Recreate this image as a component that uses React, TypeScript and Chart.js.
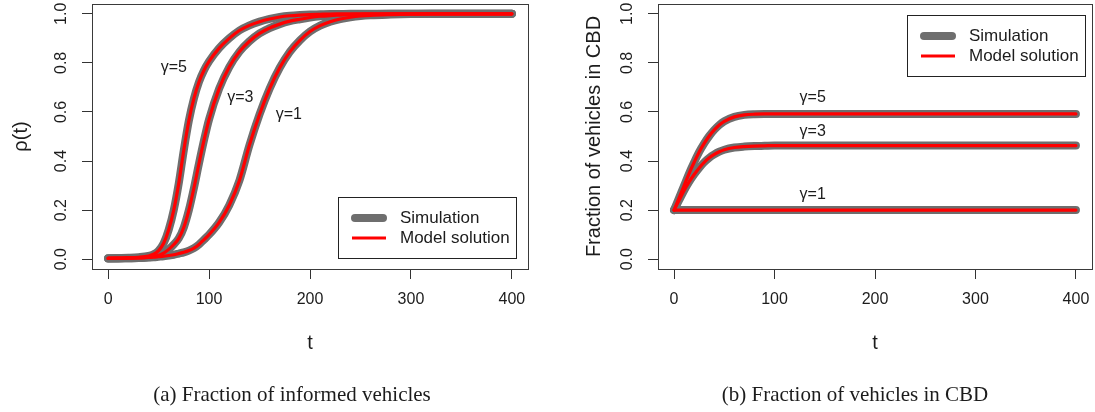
import React, { useEffect, useRef } from "react";
import { Chart, registerables } from "chart.js";

Chart.register(...registerables);

// ---------- data ----------
const T_A = [0, 10, 20, 30, 40, 45, 50, 55, 60, 65, 70, 75, 80, 85, 90, 95, 100, 110, 120, 130, 140, 150, 160, 170, 180, 190, 200, 210, 220, 230, 240, 250, 260, 280, 300, 320, 340, 360, 380, 400];
const RHO_G5 = [0.004, 0.005, 0.006, 0.008, 0.013, 0.02, 0.035, 0.065, 0.12, 0.2, 0.31, 0.445, 0.565, 0.655, 0.722, 0.77, 0.806, 0.86, 0.9, 0.932, 0.953, 0.968, 0.979, 0.987, 0.992, 0.995, 0.997, 0.998, 0.999, 0.9995, 1, 1, 1, 1, 1, 1, 1, 1, 1, 1];
const RHO_G3 = [0.003, 0.003, 0.004, 0.005, 0.008, 0.011, 0.016, 0.025, 0.04, 0.06, 0.085, 0.13, 0.2, 0.29, 0.39, 0.485, 0.57, 0.695, 0.783, 0.845, 0.888, 0.92, 0.942, 0.958, 0.97, 0.978, 0.985, 0.99, 0.993, 0.995, 0.997, 0.998, 0.999, 1, 1, 1, 1, 1, 1, 1];
const RHO_G1 = [0.003, 0.003, 0.004, 0.005, 0.007, 0.008, 0.01, 0.012, 0.015, 0.018, 0.023, 0.028, 0.035, 0.045, 0.06, 0.08, 0.1, 0.15, 0.22, 0.32, 0.465, 0.59, 0.695, 0.78, 0.845, 0.892, 0.928, 0.952, 0.968, 0.979, 0.986, 0.991, 0.994, 0.997, 0.999, 1, 1, 1, 1, 1];

const T_B = [0, 5, 10, 15, 20, 25, 30, 35, 40, 45, 50, 60, 70, 80, 90, 100, 150, 200, 250, 300, 350, 400];
const CBD_G5 = [0.2, 0.25, 0.3, 0.35, 0.395, 0.437, 0.472, 0.502, 0.527, 0.547, 0.562, 0.58, 0.588, 0.591, 0.592, 0.592, 0.592, 0.592, 0.592, 0.592, 0.592, 0.592];
const CBD_G3 = [0.2, 0.24, 0.28, 0.315, 0.345, 0.372, 0.395, 0.413, 0.427, 0.438, 0.446, 0.455, 0.459, 0.461, 0.462, 0.463, 0.463, 0.463, 0.463, 0.463, 0.463, 0.463];
const CBD_G1 = [0.2, 0.2, 0.2, 0.2, 0.2, 0.2, 0.2, 0.2, 0.2, 0.2, 0.2, 0.2, 0.2, 0.2, 0.2, 0.2, 0.2, 0.2, 0.2, 0.2, 0.2, 0.2];

const X_TICKS = [0, 100, 200, 300, 400];
const X_TICK_LABELS = ["0", "100", "200", "300", "400"];
const Y_TICKS = [0, 0.2, 0.4, 0.6, 0.8, 1.0];
const Y_TICK_LABELS = ["0.0", "0.2", "0.4", "0.6", "0.8", "1.0"];
const GAMMA_LABELS = ["γ=1", "γ=3", "γ=5"];
const LEGEND_LABELS = ["Simulation", "Model solution"];

// annotation anchors in data coordinates (t, value)
const GAMMA_AT_A: [number, number][] = [[179, 0.59], [131, 0.657], [65, 0.78]];
const GAMMA_AT_B: [number, number][] = [[138, 0.265], [138, 0.52], [138, 0.66]];

// ---------- style ----------
const GRAY = "#6e6e6e";
const RED = "#ff0000";
const INK = "#1c1c1c";
const SANS = "'Liberation Sans', Arial, sans-serif";
const SERIF = "'Liberation Serif', 'Times New Roman', serif";
const H = 412;

type PanelCfg = {
  left: number;
  width: number;
  axisW: number;
  padRight: number;
  t: number[];
  series: number[][];
  gammaAt: [number, number][];
  yTitle: string;
  yTitleOff: number;
  caption: string;
  captionX: number;
  legend: { corner: "br" | "tr"; dx: number; dy: number };
};

function drawText(
  ctx: CanvasRenderingContext2D,
  s: string,
  x: number,
  y: number,
  font: string,
  rot = 0,
  align: CanvasTextAlign = "center"
) {
  ctx.save();
  ctx.translate(x, y);
  if (rot) ctx.rotate(rot);
  ctx.font = font;
  ctx.textAlign = align;
  ctx.textBaseline = "middle";
  ctx.fillStyle = INK;
  ctx.fillText(s, 0, 0);
  ctx.restore();
}

function makePlugin(cfg: PanelCfg) {
  return {
    id: "rstyle",
    afterDraw(chart: any) {
      const { ctx, chartArea: ca } = chart;
      const xs = chart.scales.x;
      const ys = chart.scales.y;
      ctx.save();
      // box
      ctx.strokeStyle = "#3a3a3a";
      ctx.lineWidth = 1;
      ctx.strokeRect(Math.round(ca.left) + 0.5, Math.round(ca.top) + 0.5, Math.round(ca.right - ca.left), Math.round(ca.bottom - ca.top));
      // tick labels
      X_TICKS.forEach((v, i) => {
        drawText(ctx, X_TICK_LABELS[i], xs.getPixelForValue(v), ca.bottom + 31, `16px ${SANS}`);
      });
      Y_TICKS.forEach((v, i) => {
        drawText(ctx, Y_TICK_LABELS[i], ca.left - 30, ys.getPixelForValue(v), `16px ${SANS}`, -Math.PI / 2);
      });
      // axis titles
      drawText(ctx, "t", (ca.left + ca.right) / 2, ca.bottom + 74, `20px ${SANS}`);
      drawText(ctx, cfg.yTitle, ca.left - cfg.yTitleOff, (ca.top + ca.bottom) / 2, `20px ${SANS}`, -Math.PI / 2);
      // gamma labels
      cfg.gammaAt.forEach(([tx, ty], i) => {
        drawText(ctx, GAMMA_LABELS[i], xs.getPixelForValue(tx), ys.getPixelForValue(ty), `16px ${SANS}`);
      });
      // legend
      const lw = 178;
      const lh = 61;
      const bx = ca.right - cfg.legend.dx - lw;
      const by = cfg.legend.corner === "br" ? ca.bottom - cfg.legend.dy - lh : ca.top + cfg.legend.dy;
      ctx.fillStyle = "#fff";
      ctx.fillRect(bx, by, lw, lh);
      ctx.strokeStyle = "#222";
      ctx.lineWidth = 1;
      ctx.strokeRect(Math.round(bx) + 0.5, Math.round(by) + 0.5, lw, lh);
      ctx.lineCap = "round";
      ctx.strokeStyle = GRAY;
      ctx.lineWidth = 8;
      ctx.beginPath();
      ctx.moveTo(bx + 17, by + 21);
      ctx.lineTo(bx + 45, by + 21);
      ctx.stroke();
      ctx.strokeStyle = RED;
      ctx.lineWidth = 3;
      ctx.lineCap = "butt";
      ctx.beginPath();
      ctx.moveTo(bx + 14, by + 41);
      ctx.lineTo(bx + 48, by + 41);
      ctx.stroke();
      drawText(ctx, LEGEND_LABELS[0], bx + 62, by + 21, `17px ${SANS}`, 0, "left");
      drawText(ctx, LEGEND_LABELS[1], bx + 62, by + 41, `17px ${SANS}`, 0, "left");
      // caption
      drawText(ctx, cfg.caption, cfg.captionX, 395, `21px ${SERIF}`);
      ctx.restore();
    },
  };
}

function buildChart(canvas: HTMLCanvasElement, cfg: PanelCfg) {
  const datasets: any[] = [];
  cfg.series.forEach((vals, i) => {
    const pts = cfg.t.map((t, j) => ({ x: t, y: vals[j] }));
    datasets.push({
      label: "Simulation " + GAMMA_LABELS[i],
      data: pts,
      borderColor: GRAY,
      borderWidth: 8,
      borderCapStyle: "round",
      borderJoinStyle: "round",
      pointRadius: 0,
      cubicInterpolationMode: "monotone",
      order: 2,
    });
  });
  cfg.series.forEach((vals, i) => {
    const pts = cfg.t.map((t, j) => ({ x: t, y: vals[j] }));
    datasets.push({
      label: "Model solution " + GAMMA_LABELS[i],
      data: pts,
      borderColor: RED,
      borderWidth: 3.2,
      borderCapStyle: "round",
      borderJoinStyle: "round",
      pointRadius: 0,
      cubicInterpolationMode: "monotone",
      order: 1,
    });
  });
  return new Chart(canvas, {
    type: "line",
    data: { datasets },
    options: {
      animation: false,
      responsive: false,
      maintainAspectRatio: false,
      layout: { padding: { top: 4, right: cfg.padRight, bottom: 0, left: 0 } },
      plugins: { legend: { display: false }, tooltip: { enabled: false }, title: { display: false } },
      scales: {
        x: {
          type: "linear",
          min: -16,
          max: 416,
          afterBuildTicks: (s: any) => {
            s.ticks = X_TICKS.map((v) => ({ value: v }));
          },
          afterFit: (s: any) => {
            s.height = H - 269;
          },
          ticks: { display: false },
          grid: { drawOnChartArea: false, drawTicks: true, tickLength: 10, color: "#333", lineWidth: 1 },
          border: { display: false },
        },
        y: {
          type: "linear",
          min: -0.04,
          max: 1.04,
          afterBuildTicks: (s: any) => {
            s.ticks = Y_TICKS.map((v) => ({ value: v }));
          },
          afterFit: (s: any) => {
            s.width = cfg.axisW;
          },
          ticks: { display: false },
          grid: { drawOnChartArea: false, drawTicks: true, tickLength: 10, color: "#333", lineWidth: 1 },
          border: { display: false },
        },
      },
    } as any,
    plugins: [makePlugin(cfg)],
  });
}

const PANEL_A: PanelCfg = {
  left: 0,
  width: 546,
  axisW: 92,
  padRight: 18,
  t: T_A,
  series: [RHO_G1, RHO_G3, RHO_G5],
  gammaAt: GAMMA_AT_A,
  yTitle: "ρ(t)",
  yTitleOff: 71,
  caption: "(a) Fraction of informed vehicles",
  captionX: 292,
  legend: { corner: "br", dx: 12, dy: 11 },
};

const PANEL_B: PanelCfg = {
  left: 546,
  width: 549,
  axisW: 112,
  padRight: 3,
  t: T_B,
  series: [CBD_G1, CBD_G3, CBD_G5],
  gammaAt: GAMMA_AT_B,
  yTitle: "Fraction of vehicles in CBD",
  yTitleOff: 64,
  caption: "(b) Fraction of vehicles in CBD",
  captionX: 855 - 546,
  legend: { corner: "tr", dx: 7, dy: 11 },
};

function Panel({ cfg }: { cfg: PanelCfg }) {
  const ref = useRef<HTMLCanvasElement | null>(null);
  useEffect(() => {
    if (!ref.current) return;
    const ch = buildChart(ref.current, cfg);
    return () => ch.destroy();
  }, [cfg]);
  return (
    <canvas
      ref={ref}
      width={cfg.width}
      height={H}
      style={{ position: "absolute", left: cfg.left, top: 0, width: cfg.width, height: H }}
    />
  );
}

export default function App() {
  return (
    <div style={{ position: "absolute", left: 0, top: 0, width: 1095, height: H, background: "#fff", overflow: "hidden" }}>
      <Panel cfg={PANEL_A} />
      <Panel cfg={PANEL_B} />
    </div>
  );
}
